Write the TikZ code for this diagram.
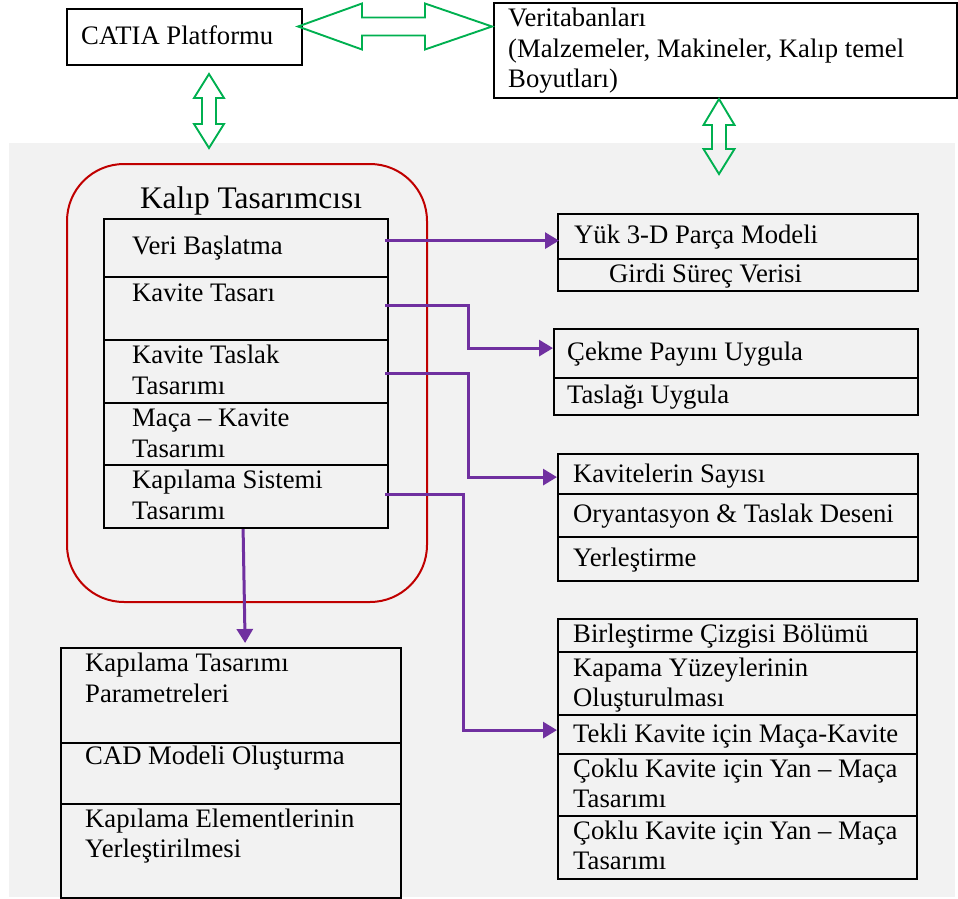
\documentclass[tikz,border=0pt]{standalone}
\usepackage{fontspec}
\setmainfont{Liberation Serif}
\usetikzlibrary{arrows.meta,calc}
\definecolor{bggray}{HTML}{F2F2F2}
\definecolor{framered}{HTML}{C00000}
\definecolor{flowpurple}{HTML}{7030A0}
\definecolor{linkgreen}{HTML}{00B050}
\newcommand\mybody{\fontsize{26.7pt}{31pt}\selectfont}
\newcommand\mytitle{\fontsize{31.4pt}{36pt}\selectfont}
\tikzset{
  rowbox/.style={draw, line width=2.2pt, anchor=north west, inner sep=0pt},
  lbl/.style={anchor=base west, inner sep=0pt, font=\mybody},
  conn/.style={draw=flowpurple, line width=3pt,
    -{Triangle[length=14pt,width=16pt]}},
  hollow/.style={draw=linkgreen, line width=1.9pt, line join=miter},
}
\begin{document}
\begin{tikzpicture}[x=1pt,y=-1pt]
\useasboundingbox (0,0) rectangle (958,899);
% shaded working area
\fill[bggray] (9,143) rectangle (955,897);

% top row: platform and databases
\node[rowbox, minimum width=235pt, minimum height=56pt] (catia) at (66,8) {};
\node[lbl] (catiat) at (81,45) {CATIA Platformu};
\node[rowbox, minimum width=463pt, minimum height=95pt] (db) at (493,2) {};
\node[lbl] (dbt1) at (508,27) {Veritabanları};
\node[lbl] (dbt2) at (508,57) {(Malzemeler, Makineler, Kalıp temel};
\node[lbl] (dbt3) at (508,87) {Boyutları)};

% green two-way links
\coordinate (hl) at (298,26.5);
\draw[hollow] (hl) -- ++(64,-23) -- ++(0,14) -- ++(63,0) -- ++(0,-14)
  -- ++(67,23) -- ++(-67,23) -- ++(0,-14) -- ++(-63,0) -- ++(0,14) -- cycle;
\coordinate (v1) at (209,74);
\draw[hollow] (v1) -- ++(15,24) -- ++(-8,0) -- ++(0,26) -- ++(8,0)
  -- ++(-15,24) -- ++(-15,-24) -- ++(8,0) -- ++(0,-26) -- ++(-8,0) -- cycle;
\coordinate (v2) at (719,99);
\draw[hollow] (v2) -- ++(15.5,26) -- ++(-8.5,0) -- ++(0,24) -- ++(8.5,0)
  -- ++(-15.5,25) -- ++(-15.5,-25) -- ++(8.5,0) -- ++(0,-24) -- ++(-8.5,0) -- cycle;

% mould designer frame
\node[draw=framered, line width=2pt, rounded corners=57pt, anchor=north west,
  inner sep=0pt, minimum width=360pt, minimum height=438pt] (designer) at (66,163) {};
\node[anchor=base, inner sep=0pt, font=\mytitle] (designert) at (251,208) {Kalıp Tasarımcısı};

% designer steps
\node[rowbox, minimum width=284pt, minimum height=58pt] (r1) at (103,218) {};
\node[rowbox, minimum width=284pt, minimum height=63pt] (r2) at (103,276) {};
\node[rowbox, minimum width=284pt, minimum height=63pt] (r3) at (103,339) {};
\node[rowbox, minimum width=284pt, minimum height=62pt] (r4) at (103,402) {};
\node[rowbox, minimum width=284pt, minimum height=63pt] (r5) at (103,464) {};
\node[lbl] (r1t) at (132,254) {Veri Başlatma};
\node[lbl] (r2t) at (132,301) {Kavite Tasarı};
\node[lbl] (r3t1) at (132,363) {Kavite Taslak};
\node[lbl] (r3t2) at (132,394) {Tasarımı};
\node[lbl] (r4t1) at (132,426) {Maça – Kavite};
\node[lbl] (r4t2) at (132,457) {Tasarımı};
\node[lbl] (r5t1) at (132,488) {Kapılama Sistemi};
\node[lbl] (r5t2) at (132,519) {Tasarımı};

% part model
\node[rowbox, minimum width=360pt, minimum height=45pt] (y1) at (557,213) {};
\node[rowbox, minimum width=360pt, minimum height=32pt] (y2) at (557,258) {};
\node[lbl] (y1t) at (574,243) {Yük 3-D Parça Modeli};
\node[lbl] (y2t) at (609,282) {Girdi Süreç Verisi};

% shrinkage and draft
\node[rowbox, minimum width=364pt, minimum height=49pt] (k1) at (553,328) {};
\node[rowbox, minimum width=364pt, minimum height=37pt] (k2) at (553,377) {};
\node[lbl] (k1t) at (567,360) {Çekme Payını Uygula};
\node[lbl] (k2t) at (567,403) {Taslağı Uygula};

% cavity layout
\node[rowbox, minimum width=360pt, minimum height=40pt] (n1) at (557,453) {};
\node[rowbox, minimum width=360pt, minimum height=43pt] (n2) at (557,493) {};
\node[rowbox, minimum width=360pt, minimum height=44pt] (n3) at (557,536) {};
\node[lbl] (n1t) at (573,482) {Kavitelerin Sayısı};
\node[lbl] (n2t) at (573,522) {Oryantasyon \& Taslak Deseni};
\node[lbl] (n3t) at (573,566) {Yerleştirme};

% core and cavity design
\node[rowbox, minimum width=359pt, minimum height=33pt] (m1) at (557,618) {};
\node[rowbox, minimum width=359pt, minimum height=63pt] (m2) at (557,651) {};
\node[rowbox, minimum width=359pt, minimum height=39pt] (m3) at (557,714) {};
\node[rowbox, minimum width=359pt, minimum height=62pt] (m4) at (557,753) {};
\node[rowbox, minimum width=359pt, minimum height=63pt] (m5) at (557,815) {};
\node[lbl] (m1t) at (573,642) {Birleştirme Çizgisi Bölümü};
\node[lbl] (m2t1) at (573,676) {Kapama Yüzeylerinin};
\node[lbl] (m2t2) at (573,706) {Oluşturulması};
\node[lbl] (m3t) at (573,742) {Tekli Kavite için Maça-Kavite};
\node[lbl] (m4t1) at (573,777) {Çoklu Kavite için Yan – Maça};
\node[lbl] (m4t2) at (573,807) {Tasarımı};
\node[lbl] (m5t1) at (573,839) {Çoklu Kavite için Yan – Maça};
\node[lbl] (m5t2) at (573,869) {Tasarımı};

% gating design
\node[rowbox, minimum width=340pt, minimum height=95pt] (g1) at (60,647) {};
\node[rowbox, minimum width=340pt, minimum height=61pt] (g2) at (60,742) {};
\node[rowbox, minimum width=340pt, minimum height=94pt] (g3) at (60,803) {};
\node[lbl] (g1t1) at (85,671) {Kapılama Tasarımı};
\node[lbl] (g1t2) at (85,702) {Parametreleri};
\node[lbl] (g2t) at (85,764) {CAD Modeli Oluşturma};
\node[lbl] (g3t1) at (85,827) {Kapılama Elementlerinin};
\node[lbl] (g3t2) at (85,857) {Yerleştirilmesi};

% flow connectors
\draw[conn] ([xshift=-4pt,yshift=7.5pt]r1.east) coordinate (s1) -- ([xshift=2pt]s1 -| y1.west);
\draw[conn] ([xshift=-4pt,yshift=3pt]r2.east)
  -| ([xshift=-85pt,yshift=5.5pt]k1.west) -- ([yshift=5.5pt]k1.west);
\draw[conn] ([xshift=-4pt,yshift=-1.5pt]r3.east)
  -| ([xshift=-89pt,yshift=-3pt]n1.west) -- ([yshift=-3pt]n1.west);
\draw[conn] ([xshift=-4pt,yshift=2.5pt]r5.east)
  -| ([xshift=-94pt,yshift=4.5pt]m3.west) -- ([yshift=4.5pt]m3.west);
\draw[conn] ([xshift=-3pt]r5.south) -- ([xshift=14pt,yshift=4pt]g1.north);
\end{tikzpicture}
\end{document}
